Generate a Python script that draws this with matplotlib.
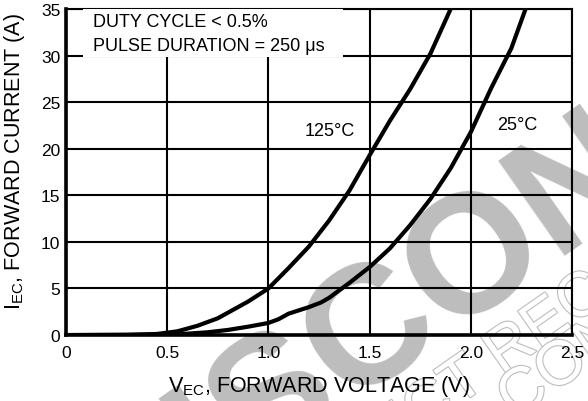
import matplotlib
matplotlib.use("Agg")
import matplotlib.pyplot as plt
import matplotlib.patheffects as pe
from matplotlib.patches import Rectangle

plt.rcParams["font.family"] = ["Liberation Sans", "DejaVu Sans"]
plt.rcParams["mathtext.default"] = "regular"

# data
v_125 = [0.0, 0.3, 0.45, 0.55, 0.65, 0.75, 0.8, 0.9, 1.0, 1.1, 1.2, 1.3, 1.4, 1.5, 1.6, 1.7, 1.8, 1.9]
i_125 = [0.0, 0.02, 0.12, 0.4, 1.0, 1.8, 2.4, 3.6, 5.0, 7.2, 9.5, 12.3, 15.5, 19.3, 23.0, 26.4, 30.2, 35.0]

v_25 = [0.0, 0.5, 0.6, 0.7, 0.8, 0.9, 1.0, 1.05, 1.1, 1.2, 1.26, 1.3, 1.4, 1.5, 1.6, 1.7, 1.8, 1.9, 2.0, 2.1, 2.2, 2.27]
i_25 = [0.0, 0.05, 0.15, 0.3, 0.55, 0.9, 1.3, 1.7, 2.3, 3.0, 3.5, 4.0, 5.6, 7.3, 9.3, 11.8, 14.6, 17.9, 21.8, 26.5, 30.8, 35.0]

x_ticks = [0, 0.5, 1.0, 1.5, 2.0, 2.5]
x_labels = ["0", "0.5", "1.0", "1.5", "2.0", "2.5"]
y_ticks = [0, 5, 10, 15, 20, 25, 30, 35]

fig = plt.figure(figsize=(5.88, 4.02), dpi=100)
fig.patch.set_facecolor("white")
ax = fig.add_axes([0.112, 0.164, 0.861, 0.811])
ax.set_facecolor("none")

# watermark, behind everything
wm = "#bdbdbd"
fig.text(1.05, 0.61, "DISCONTINUED", fontsize=122, fontweight="bold", color=wm,
         rotation=35, ha="center", va="center", zorder=-1, rotation_mode="anchor")
outline = [pe.withStroke(linewidth=1.6, foreground=wm)]
fig.text(0.40, -0.40, "PRODUCT RECOMMENDED REPLACEMENT", fontsize=45, color="white",
         rotation=35, ha="left", va="baseline", zorder=-1, rotation_mode="anchor",
         path_effects=outline)
fig.text(0.875, -0.047, "CONTACT OUR TECHNICAL SUPPORT", fontsize=45, color="white",
         rotation=35, ha="left", va="baseline", zorder=-1, rotation_mode="anchor",
         path_effects=outline)

ax.set_xlim(0, 2.5)
ax.set_ylim(0, 35)
ax.set_xticks(x_ticks)
ax.set_xticklabels(x_labels)
ax.set_yticks(y_ticks)
ax.grid(True, color="black", linewidth=1.5)
ax.tick_params(length=0, labelsize=12.5)
ax.tick_params(axis="x", pad=7)
ax.tick_params(axis="y", pad=4)

for s in ["left", "bottom"]:
    ax.spines[s].set_linewidth(2.6)
for s in ["top", "right"]:
    ax.spines[s].set_linewidth(1.5)

ax.plot(v_125, i_125, color="black", linewidth=3, zorder=4)
ax.plot(v_25, i_25, color="black", linewidth=3, zorder=4)

# white box behind the test conditions
ax.add_patch(Rectangle((0.084, 29.8), 1.286, 5.2, facecolor="white", edgecolor="none", zorder=3))
ax.text(0.133, 33.7, "DUTY CYCLE < 0.5%", fontsize=13, va="center", zorder=5)
ax.text(0.133, 31.1, "PULSE DURATION = 250 \u03bcs", fontsize=13, va="center", zorder=5)

ax.text(1.18, 22.0, "125\u00b0C", fontsize=13, va="center", zorder=5,
        bbox=dict(facecolor="white", edgecolor="none", pad=4))
ax.text(2.13, 22.6, "25\u00b0C", fontsize=13, va="center", zorder=5)

ax.set_xlabel("V$_{EC}$, FORWARD VOLTAGE (V)", fontsize=15.5)
ax.set_ylabel("I$_{EC}$, FORWARD CURRENT (A)", fontsize=15.5)
ax.xaxis.set_label_coords(0.5, -0.115)
ax.yaxis.set_label_coords(-0.077, 0.534)

fig.savefig("out.png", dpi=100)
